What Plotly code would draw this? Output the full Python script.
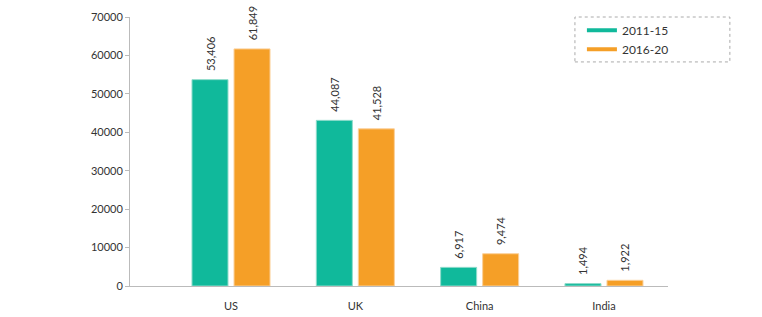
import plotly.graph_objects as go

categories = ["US", "UK", "China", "India"]
series_names = ["2011-15", "2016-20"]
values_2011_15 = [53700, 43100, 4850, 620]
values_2016_20 = [61700, 40900, 8400, 1480]
labels_2011_15 = ["53,406", "44,087", "6,917", "1,494"]
labels_2016_20 = ["61,849", "41,528", "9,474", "1,922"]
y_ticks = [0, 10000, 20000, 30000, 40000, 50000, 60000, 70000]

GREEN = "#10b99b"
ORANGE = "#f59f27"
FONT = "Lato"
TXT = "#333333"
PAD = "\u00a0\u00a0"

fig = go.Figure()
for name, vals, labs, col, edge in [
    (series_names[0], values_2011_15, labels_2011_15, GREEN, "#8fdccb"),
    (series_names[1], values_2016_20, labels_2016_20, ORANGE, "#fbd09a"),
]:
    fig.add_trace(go.Bar(
        x=categories, y=vals, name=name, text=[PAD + t for t in labs],
        textposition="outside", textangle=-90, constraintext="none",
        textfont=dict(family=FONT, size=11, color=TXT),
        cliponaxis=False,
        marker=dict(color=col, line=dict(color=edge, width=1)),
        showlegend=False,
    ))
    fig.add_trace(go.Scatter(
        x=[None], y=[None], mode="lines", name=name,
        line=dict(color=col, width=4), showlegend=True,
    ))

fig.add_shape(type="rect", xref="paper", yref="paper",
              x0=0.827, x1=1.115, y0=0.833, y1=1.0,
              line=dict(color="#aaaaaa", width=1, dash="dot"))

fig.update_layout(
    width=762, height=317,
    margin=dict(l=130, r=94, t=17, b=31),
    paper_bgcolor="white", plot_bgcolor="white",
    barmode="group", bargap=0.324, bargroupgap=0.143,
    uniformtext=dict(mode=False),
    font=dict(family=FONT, size=11, color=TXT),
    legend=dict(x=0.84, y=1.005, xanchor="left", yanchor="top",
                bgcolor="rgba(0,0,0,0)", borderwidth=0,
                font=dict(family=FONT, size=12, color=TXT),
                tracegroupgap=0, itemwidth=30),
    xaxis=dict(range=[-0.8125, 3.515], showgrid=False, showline=True,
               automargin=False,
               linecolor="#bbbbbb", linewidth=1, ticks="outside",
               ticklen=10, tickcolor="rgba(0,0,0,0)",
               tickfont=dict(family=FONT, size=11, color=TXT)),
    yaxis=dict(range=[0, 70000], tickvals=y_ticks,
               ticktext=[str(v) for v in y_ticks], automargin=False,
               showgrid=False, zeroline=False, showline=True,
               linecolor="#bbbbbb", linewidth=1, ticks="outside",
               ticklen=4, tickcolor="#bbbbbb",
               tickfont=dict(family=FONT, size=11, color=TXT)),
)

fig.write_html("out.html")
